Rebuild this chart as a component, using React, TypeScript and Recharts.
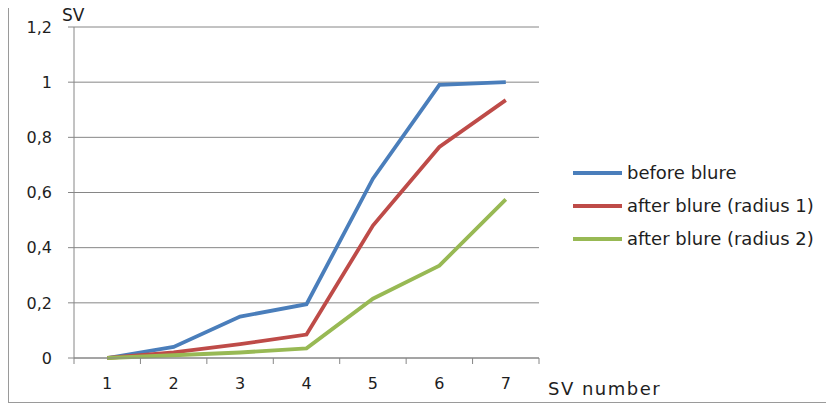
import React from 'react';
import { LineChart, Line, XAxis, YAxis, CartesianGrid } from 'recharts';

// SV number on the x axis
const svNumbers = [1, 2, 3, 4, 5, 6, 7];
// values
const beforeBlure = [0, 0.04, 0.15, 0.195, 0.65, 0.99, 1.0];
const afterBlureR1 = [0, 0.02, 0.05, 0.085, 0.48, 0.765, 0.935];
const afterBlureR2 = [0, 0.01, 0.02, 0.035, 0.215, 0.335, 0.575];

const yTicks = [0, 0.2, 0.4, 0.6, 0.8, 1, 1.2];
// labels at the categories, tick marks between them
const xTicks = [0.5, 1, 1.5, 2, 2.5, 3, 3.5, 4, 4.5, 5, 5.5, 6, 6.5, 7, 7.5];

const series = [
  { key: 'before', name: 'before blure', color: '#4A7EBB' },
  { key: 'r1', name: 'after blure (radius 1)', color: '#BE4B48' },
  { key: 'r2', name: 'after blure (radius 2)', color: '#98B954' },
];

const data = svNumbers.map((n, i) => ({
  sv: n,
  before: beforeBlure[i],
  r1: afterBlureR1[i],
  r2: afterBlureR2[i],
}));

const FONT = '"DejaVu Sans", Verdana, sans-serif';
const GRID = '#868686';
const INK = '#1e1e1e';

const XTick = (props: any) => {
  const { x, y, payload } = props;
  if (Number.isInteger(payload.value)) {
    return (
      <text x={x} y={y + 31} textAnchor="middle" fontSize={16} fontFamily={FONT} fill={INK}>
        {payload.value}
      </text>
    );
  }
  return <line x1={x} x2={x} y1={y} y2={y + 6} stroke={GRID} strokeWidth={1} />;
};

const fmtY = (v: number) => String(Math.round(v * 10) / 10).replace('.', ',');

export default function App() {
  return (
    <div
      style={{
        position: 'relative',
        width: 822,
        height: 396,
        marginTop: -1,
        border: '1px solid #9a9a9a',
        boxSizing: 'border-box',
        background: '#fff',
      }}
    >
      <LineChart
        width={820}
        height={394}
        data={data}
        margin={{ top: 19, right: 290, bottom: 0, left: 0 }}
        style={{ overflow: 'visible' }}
      >
        <CartesianGrid horizontal vertical={false} stroke={GRID} strokeWidth={1} />
        <XAxis
          dataKey="sv"
          type="number"
          domain={[0.5, 7.5]}
          ticks={xTicks}
          interval={0}
          tickLine={false}
          tickSize={0}
          tickMargin={0}
          height={44}
          stroke={GRID}
          tick={<XTick />}
          label={(p: any) => (
            <text
              x={p.viewBox.x + p.viewBox.width + 9}
              y={p.viewBox.y + 37}
              fontSize={18}
              letterSpacing={1.5}
              fontFamily={FONT}
              fill={INK}
            >
              SV number
            </text>
          )}
        />
        <YAxis
          width={65}
          domain={[0, 1.2]}
          ticks={yTicks}
          interval={0}
          tickFormatter={fmtY}
          tickSize={6}
          tickMargin={16}
          stroke={GRID}
          tick={{ fontSize: 16, fontFamily: FONT, fill: INK }}
          label={(p: any) => (
            <text
              x={p.viewBox.x + p.viewBox.width - 12}
              y={p.viewBox.y - 6}
              fontSize={17}
              fontFamily={FONT}
              fill={INK}
            >
              SV
            </text>
          )}
        />
        {series.map((s) => (
          <Line
            key={s.key}
            type="linear"
            dataKey={s.key}
            name={s.name}
            stroke={s.color}
            strokeWidth={3.8}
            dot={false}
            activeDot={false}
            isAnimationActive={false}
          />
        ))}
      </LineChart>
      <div style={{ position: 'absolute', left: 564, top: 148, fontFamily: FONT, fontSize: 18, color: INK }}>
        {series.map((s) => (
          <div key={s.key} style={{ display: 'flex', alignItems: 'center', height: 33 }}>
            <span style={{ display: 'inline-block', width: 49, height: 4, background: s.color, marginRight: 5 }} />
            <span>{s.name}</span>
          </div>
        ))}
      </div>
    </div>
  );
}
